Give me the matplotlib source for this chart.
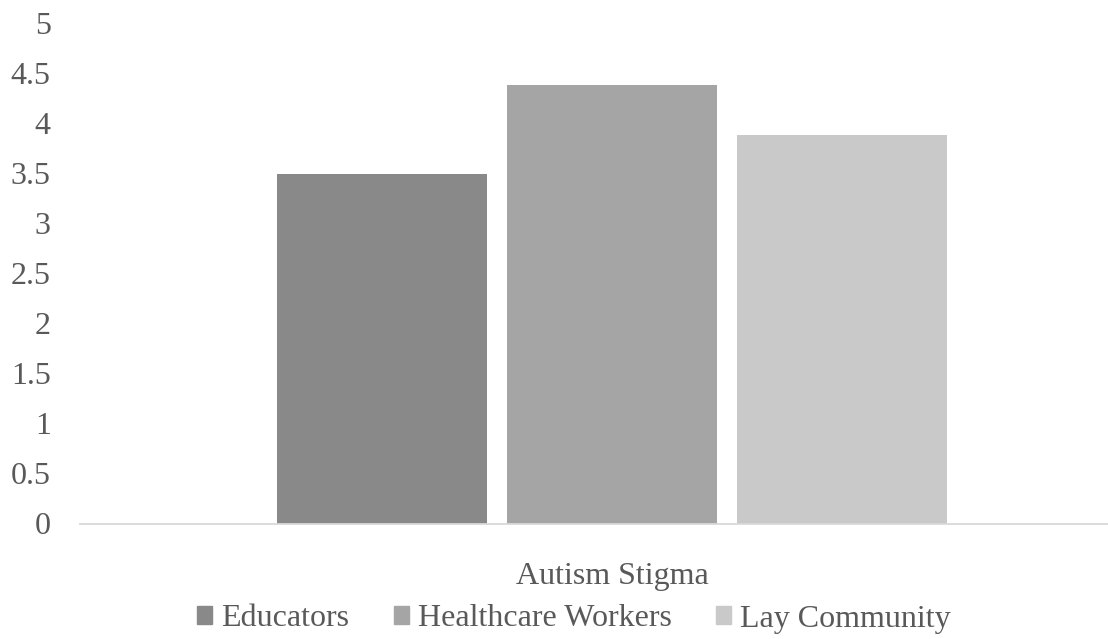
import matplotlib.pyplot as plt
from matplotlib.patches import Patch

groups = ["Educators", "Healthcare Workers", "Lay Community"]
scores = [3.50, 4.39, 3.89]
colors = ["#898989", "#a5a5a5", "#c9c9c9"]
category = "Autism Stigma"
yticks = [0, 0.5, 1, 1.5, 2, 2.5, 3, 3.5, 4, 4.5, 5]

plt.rcParams["font.family"] = ["Liberation Serif", "DejaVu Serif"]
text_color = "#595959"

fig = plt.figure(figsize=(11.08, 6.39), dpi=100)
ax = fig.add_axes([80 / 1108, 115.5 / 639, 1064 / 1108, 500 / 639])

width = 210 / 1064
step = 230 / 1064
for i, (g, v, c) in enumerate(zip(groups, scores, colors)):
    ax.bar((i - 1) * step, v, width=width, color=c, label=g)

ax.set_xlim(-0.5, 0.5)
ax.set_ylim(0, 5)
ax.set_yticks(yticks)
ax.set_yticklabels([f"{t:g}" for t in yticks])
ax.set_xticks([0])
ax.set_xticklabels([category])

for side in ["top", "right", "left"]:
    ax.spines[side].set_visible(False)
ax.spines["bottom"].set_color("#d9d9d9")
ax.spines["bottom"].set_linewidth(1.3)

ax.tick_params(axis="y", length=0, pad=21, labelsize=23, labelcolor=text_color)
ax.tick_params(axis="x", length=0, pad=28, labelsize=23, labelcolor=text_color)

handles = [Patch(color=c) for c in colors]
fig.legend(handles, groups, loc="center", bbox_to_anchor=(574 / 1108, 1 - 619 / 639),
           ncol=3, frameon=False, fontsize=23, labelcolor=text_color,
           handlelength=0.47, handleheight=0.47, handletextpad=0.28,
           columnspacing=1.4, borderpad=0, borderaxespad=0)

fig.savefig("out.png", dpi=100)
